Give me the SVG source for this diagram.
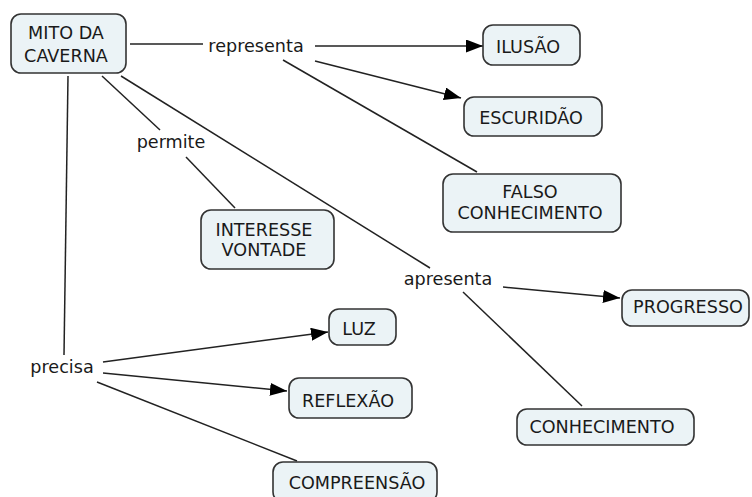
<svg xmlns="http://www.w3.org/2000/svg" width="752" height="497" viewBox="0 0 752 497">
<style>
.node rect{fill:#ebf3f6;stroke:#333;stroke-width:1.6}
text{font-family:"DejaVu Sans","Verdana",sans-serif;font-size:17.6px;fill:#1a1a1a;text-anchor:middle}
.conn line{stroke:#222;stroke-width:1.5}
</style>
<defs>
<marker id="arr" markerUnits="userSpaceOnUse" markerWidth="17" markerHeight="13" refX="17" refY="6.5" orient="auto">
<path d="M0,0 L17,6.5 L0,13 z" fill="#000"/>
</marker>
</defs>
<rect width="752" height="497" fill="#fff"/>
<g id="connectors" class="conn">
<line x1="130" y1="44" x2="203" y2="44"/>
<line x1="315" y1="46" x2="483" y2="46" marker-end="url(#arr)"/>
<line x1="315" y1="61" x2="461" y2="98" marker-end="url(#arr)"/>
<line x1="283" y1="60" x2="477" y2="172"/>
<line x1="102" y1="76" x2="160" y2="130"/>
<line x1="186" y1="157" x2="235" y2="208"/>
<line x1="121" y1="76" x2="430" y2="268"/>
<line x1="503" y1="287" x2="620" y2="298" marker-end="url(#arr)"/>
<line x1="463" y1="292" x2="582" y2="406"/>
<line x1="68" y1="76" x2="64" y2="355"/>
<line x1="103" y1="362" x2="328" y2="332" marker-end="url(#arr)"/>
<line x1="103" y1="373" x2="287" y2="391" marker-end="url(#arr)"/>
<line x1="97" y1="382" x2="297" y2="461"/>
</g>
<g id="lbl-representa"><text x="256" y="52">representa</text></g>
<g id="lbl-permite"><text x="171" y="148">permite</text></g>
<g id="lbl-apresenta"><text x="448" y="285">apresenta</text></g>
<g id="lbl-precisa"><text x="62" y="373">precisa</text></g>
<g id="n-mito" class="node"><rect x="11" y="14" width="115" height="59" rx="10"/><text x="66" y="39">MITO DA</text><text x="66" y="62">CAVERNA</text></g>
<g id="n-ilusao" class="node"><rect x="483" y="25" width="97" height="40" rx="10"/><text x="528" y="53">ILUSÃO</text></g>
<g id="n-escuridao" class="node"><rect x="464" y="97" width="138" height="39" rx="10"/><text x="531" y="124">ESCURIDÃO</text></g>
<g id="n-falso" class="node"><rect x="443" y="174" width="178" height="58" rx="10"/><text x="530" y="198">FALSO</text><text x="530" y="219">CONHECIMENTO</text></g>
<g id="n-interesse" class="node"><rect x="201" y="210" width="133" height="59" rx="10"/><text x="264" y="236">INTERESSE</text><text x="264" y="256">VONTADE</text></g>
<g id="n-progresso" class="node"><rect x="622" y="290" width="127" height="36" rx="10"/><text x="688" y="313">PROGRESSO</text></g>
<g id="n-conhecimento" class="node"><rect x="517" y="409" width="177" height="36" rx="10"/><text x="602" y="433">CONHECIMENTO</text></g>
<g id="n-luz" class="node"><rect x="329" y="309" width="67" height="36" rx="10"/><text x="359" y="335">LUZ</text></g>
<g id="n-reflexao" class="node"><rect x="289" y="378" width="123" height="40" rx="10"/><text x="348" y="407">REFLEXÃO</text></g>
<g id="n-compreensao" class="node"><rect x="273" y="462" width="164" height="40" rx="10"/><text x="357" y="489">COMPREENSÃO</text></g>
</svg>
